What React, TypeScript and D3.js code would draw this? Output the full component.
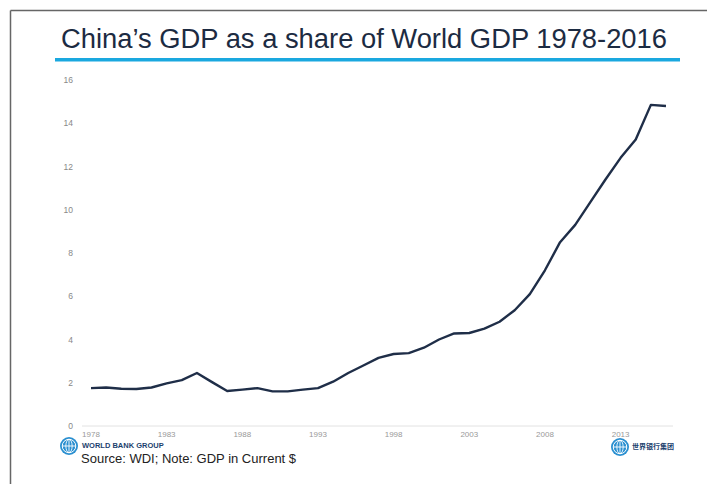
import React from "react";
import * as d3 from "d3";

const years: number[] = d3.range(1978, 2017);
const share: number[] = [
  1.75, 1.78, 1.72, 1.71, 1.78, 1.97, 2.12, 2.45, 2.03, 1.62,
  1.68, 1.75, 1.6, 1.6, 1.68, 1.75, 2.05, 2.45, 2.8, 3.15,
  3.33, 3.37, 3.62, 4.0, 4.28, 4.3, 4.5, 4.82, 5.35, 6.1,
  7.2, 8.5, 9.3, 10.35, 11.4, 12.4, 13.25, 14.85, 14.8,
];
const yTicks: number[] = [0, 2, 4, 6, 8, 10, 12, 14, 16];
const xTicks: number[] = [1978, 1983, 1988, 1993, 1998, 2003, 2008, 2013];
const title = "China\u2019s GDP as a share of World GDP 1978-2016";
const source = "Source: WDI; Note: GDP in Current $";

const Globe = ({ cx, cy, r }: { cx: number; cy: number; r: number }) => (
  <g>
    <circle cx={cx} cy={cy} r={r} fill="#2a8fd0" />
    <circle cx={cx} cy={cy} r={r * 0.75} fill="none" stroke="#fff" strokeWidth={1} />
    <ellipse cx={cx} cy={cy} rx={r * 0.35} ry={r * 0.75} fill="none" stroke="#fff" strokeWidth={0.9} />
    <line x1={cx - r * 0.75} y1={cy} x2={cx + r * 0.75} y2={cy} stroke="#fff" strokeWidth={0.9} />
    <line x1={cx} y1={cy - r * 0.75} x2={cx} y2={cy + r * 0.75} stroke="#fff" strokeWidth={0.9} />
  </g>
);

export default function App() {
  const W = 707;
  const H = 484;
  const x = d3.scaleLinear().domain([1978, 2016]).range([91, 666]);
  const y = d3.scaleLinear().domain([0, 16]).range([426, 80]);
  const line = d3
    .line<number>()
    .x((_, i) => x(years[i]))
    .y((d) => y(d));
  const font = "'Liberation Sans', Arial, sans-serif";
  return (
    <svg
      width={W}
      height={H}
      style={{ position: "absolute", left: 0, top: 0, background: "#fff" }}
      fontFamily={font}
    >
      <rect x={0} y={0} width={W} height={H} fill="#fff" />
      <line x1={10.5} y1={10.5} x2={W} y2={10.5} stroke="#666" strokeWidth={1.5} />
      <line x1={10.5} y1={10.5} x2={10.5} y2={H} stroke="#666" strokeWidth={1.5} />
      <text
        x={61}
        y={48}
        fontSize={27}
        fill="#1c2b42"
        textLength={606}
        lengthAdjust="spacingAndGlyphs"
      >
        {title}
      </text>
      <rect x={55} y={58} width={625} height={3.5} fill="#1aa8df" />
      {yTicks.map((t) => (
        <text key={t} x={73} y={y(t) + 3} fontSize={8.5} fill="#888" textAnchor="end">
          {t}
        </text>
      ))}
      <line x1={82} y1={y(0)} x2={673} y2={y(0)} stroke="#e2e2e2" strokeWidth={1} />
      {xTicks.map((t) => (
        <text key={t} x={x(t)} y={437} fontSize={8} fill="#999" textAnchor="middle">
          {t}
        </text>
      ))}
      <path
        d={line(share) || ""}
        fill="none"
        stroke="#1f2e48"
        strokeWidth={2.4}
        strokeLinejoin="round"
      />
      <Globe cx={69} cy={446} r={9} />
      <text x={82} y={448} fontSize={7.5} fontWeight="bold" fill="#1c3f6e">
        WORLD BANK GROUP
      </text>
      <text x={81} y={463} fontSize={13} fill="#222">
        {source}
      </text>
      <Globe cx={620} cy={447} r={9} />
      <text x={632} y={449} fontSize={7} fontWeight="bold" fill="#1c3f6e" fontFamily="'Noto Sans CJK SC', sans-serif">
        世界银行集团
      </text>
    </svg>
  );
}
